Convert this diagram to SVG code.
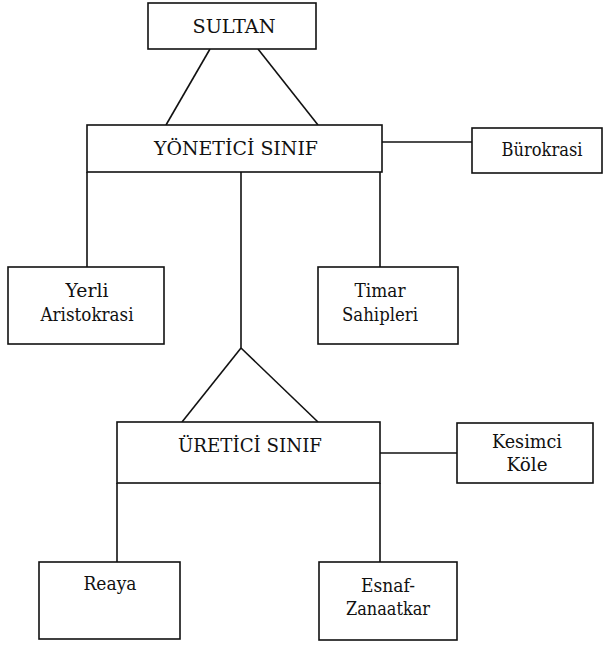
<svg xmlns="http://www.w3.org/2000/svg" width="604" height="645" viewBox="0 0 604 645">
<style>
.box{fill:#fff;stroke:#111;stroke-width:1.6}
line{stroke:#111;stroke-width:1.6}
text{font-family:'DejaVu Serif','Liberation Serif',serif;fill:#111;text-anchor:middle;font-size:19px}
</style>
<g id="connectors">
<line x1="210" y1="49" x2="166" y2="125"/>
<line x1="258" y1="49" x2="318" y2="125"/>
<line x1="382" y1="142" x2="472" y2="142"/>
<line x1="87" y1="172" x2="87" y2="267"/>
<line x1="380" y1="172" x2="380" y2="267"/>
<line x1="241" y1="172" x2="241" y2="348"/>
<line x1="241" y1="348" x2="182" y2="422"/>
<line x1="241" y1="348" x2="318" y2="422"/>
<line x1="380" y1="453" x2="457" y2="453"/>
<line x1="117" y1="483" x2="117" y2="562"/>
<line x1="380" y1="483" x2="380" y2="562"/>
</g>
<g id="sultan"><rect class="box" x="148" y="3" width="168" height="46"/><text x="234" y="33" textLength="83" lengthAdjust="spacingAndGlyphs">SULTAN</text></g>
<g id="yonetici"><rect class="box" x="87" y="125" width="295" height="47"/><text x="236" y="155" font-size="20" textLength="164" lengthAdjust="spacingAndGlyphs">YÖNETİCİ SINIF</text></g>
<g id="burokrasi"><rect class="box" x="472" y="128" width="130" height="45"/><text x="542" y="156" textLength="81" lengthAdjust="spacingAndGlyphs">Bürokrasi</text></g>
<g id="yerli"><rect class="box" x="8" y="267" width="156" height="77"/><text x="87" y="297" textLength="43" lengthAdjust="spacingAndGlyphs">Yerli</text><text x="87" y="321" textLength="93" lengthAdjust="spacingAndGlyphs">Aristokrasi</text></g>
<g id="timar"><rect class="box" x="318" y="267" width="140" height="77"/><text x="380" y="297" textLength="51" lengthAdjust="spacingAndGlyphs">Timar</text><text x="380" y="321" textLength="76" lengthAdjust="spacingAndGlyphs">Sahipleri</text></g>
<g id="uretici"><rect class="box" x="117" y="422" width="263" height="61"/><text x="250" y="452" font-size="19.5" textLength="144" lengthAdjust="spacingAndGlyphs">ÜRETİCİ SINIF</text></g>
<g id="kesimci"><rect class="box" x="457" y="423" width="136" height="60"/><text x="527" y="448" textLength="70" lengthAdjust="spacingAndGlyphs">Kesimci</text><text x="527" y="471" textLength="41" lengthAdjust="spacingAndGlyphs">Köle</text></g>
<g id="reaya"><rect class="box" x="39" y="562" width="141" height="77"/><text x="110" y="590" textLength="53" lengthAdjust="spacingAndGlyphs">Reaya</text></g>
<g id="esnaf"><rect class="box" x="319" y="562" width="138" height="78"/><text x="388" y="592" textLength="54" lengthAdjust="spacingAndGlyphs">Esnaf-</text><text x="388" y="615" textLength="84" lengthAdjust="spacingAndGlyphs">Zanaatkar</text></g>
</svg>
